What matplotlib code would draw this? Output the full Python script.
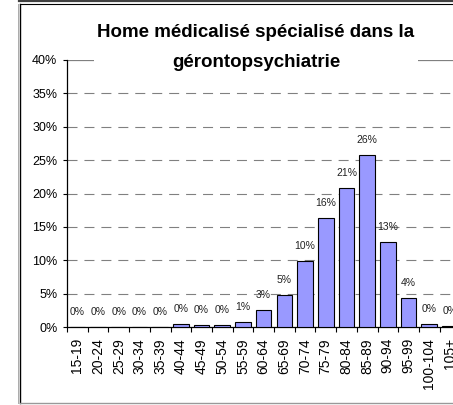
import matplotlib
matplotlib.use("Agg")
import matplotlib.pyplot as plt
from matplotlib.lines import Line2D
from matplotlib.patches import Rectangle

plt.rcParams['font.family'] = ['Liberation Sans', 'DejaVu Sans']
plt.rcParams['lines.scale_dashes'] = False

title_line1 = "Home médicalisé spécialisé dans la"
title_line2 = "gérontopsychiatrie"
categories = ["15-19", "20-24", "25-29", "30-34", "35-39", "40-44", "45-49",
              "50-54", "55-59", "60-64", "65-69", "70-74", "75-79", "80-84",
              "85-89", "90-94", "95-99", "100-104", "105+"]
values = [0.0, 0.0, 0.0, 0.0, 0.0, 0.4, 0.25, 0.35, 0.75, 2.55, 4.85, 9.9,
          16.3, 20.8, 25.8, 12.8, 4.3, 0.4, 0.08]
yticks = [0, 5, 10, 15, 20, 25, 30, 35, 40]

W, H = 453, 405
fig = plt.figure(figsize=(W / 100, H / 100), dpi=100)
fig.patch.set_facecolor('white')

def fx(px):
    return px / W

def fy(py):
    return 1 - py / H

ax_left, ax_top, ax_bottom = 67, 60, 327
ax_w = 19 * 20.7
ax = fig.add_axes([fx(ax_left), fy(ax_bottom), ax_w / W, (ax_bottom - ax_top) / H])
ax.set_facecolor('none')

x = list(range(len(categories)))
bars = ax.bar(x, values, width=0.75, color='#9999FF', edgecolor='black',
              linewidth=0.8, zorder=3)

for xi, v in zip(x, values):
    ax.annotate(f"{v:.0f}%", (xi, v), xytext=(0, 15), textcoords='offset pixels',
                ha='center', va='center', fontsize=7.5, color='#222222', zorder=4)

ax.set_xlim(-0.5, len(categories) - 0.5)
ax.set_ylim(0, 40)
ax.set_yticks(yticks)
ax.set_yticklabels([f"{t}%" for t in yticks], fontsize=9)
for t in yticks[1:-1]:
    ax.axhline(t, color='#808080', lw=0.8, linestyle=(0, (7.2, 5.0)), zorder=1)
ax.axhline(40, color='#808080', lw=0.9, zorder=1)

ax.set_xticks(x)
ax.set_xticklabels(categories, rotation=90, fontsize=10, va='top')
ax.set_xticks([i - 0.5 for i in range(len(categories) + 1)], minor=True)
ax.tick_params(axis='x', which='major', length=0, pad=8)
ax.tick_params(axis='x', which='minor', length=3.5, width=0.8, direction='out')
ax.tick_params(axis='y', which='major', length=3, width=0.8, pad=4)

for s in ['top', 'right']:
    ax.spines[s].set_visible(False)
for s in ['left', 'bottom']:
    ax.spines[s].set_color('black')
    ax.spines[s].set_linewidth(0.9)

# white box behind the title (covers the top gridline)
fig.patches.append(Rectangle((fx(94), fy(74)), (418 - 94) / W, (74 - 20) / H,
                             transform=fig.transFigure, facecolor='white',
                             edgecolor='none', zorder=1))
fig.text(fx(256), fy(37), title_line1, ha='center', va='baseline',
         fontsize=13.5, fontweight='bold', zorder=3)
fig.text(fx(256), fy(67), title_line2, ha='center', va='baseline',
         fontsize=13.5, fontweight='bold', zorder=3)

# chart frame
fig.lines.append(Line2D([fx(19.5), fx(19.5)], [fy(4), fy(403)],
                        transform=fig.transFigure, color='black', lw=1.0))
fig.lines.append(Line2D([fx(18), fx(18)], [fy(4), fy(403)],
                        transform=fig.transFigure, color='#aaaaaa', lw=0.7))
fig.lines.append(Line2D([fx(19.5), fx(460)], [fy(4), fy(4)],
                        transform=fig.transFigure, color='black', lw=0.8))
fig.lines.append(Line2D([fx(19), fx(460)], [fy(0.8), fy(0.8)],
                        transform=fig.transFigure, color='#404040', lw=1.6))
fig.lines.append(Line2D([fx(19.5), fx(460)], [fy(403), fy(403)],
                        transform=fig.transFigure, color='#999999', lw=1.0))

fig.savefig('out.png', dpi=100)
